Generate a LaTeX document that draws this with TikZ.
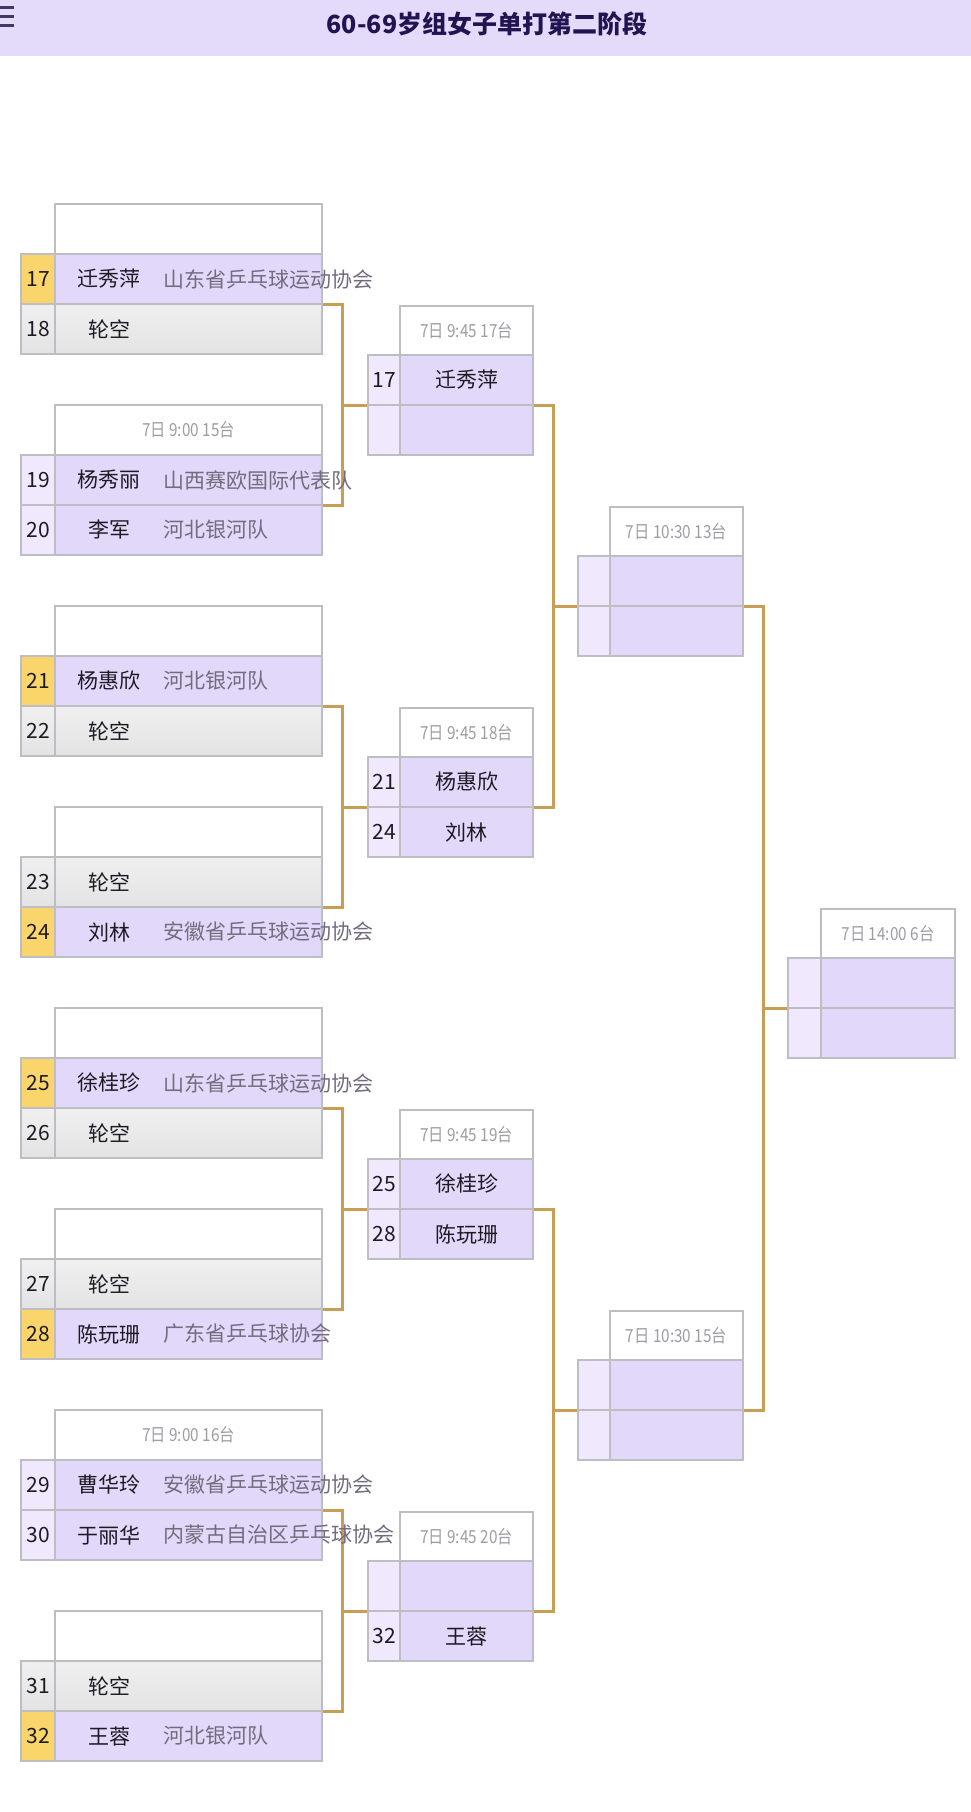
\documentclass[tikz,border=0pt]{standalone}
\usepackage{fontspec}
\setmainfont{Noto Sans CJK SC}
\newfontfamily\hdrfont{Noto Sans CJK SC}[FakeStretch=0.85]
\usetikzlibrary{backgrounds}
\definecolor{titlebg}{HTML}{E4DBFA}
\definecolor{titlefg}{HTML}{221450}
\definecolor{lav}{HTML}{E2D9FA}
\definecolor{lavlt}{HTML}{F0E8FC}
\definecolor{gold}{HTML}{C89E55}
\definecolor{yel}{HTML}{FAD56C}
\definecolor{bord}{HTML}{BEBDC4}
\definecolor{hdrfg}{HTML}{A09CA4}
\definecolor{clubfg}{HTML}{736C7E}
\definecolor{namefg}{HTML}{1E1A24}
\tikzset{
  cell/.style={draw=bord,line width=1.3pt,inner sep=0pt,outer sep=0pt,minimum height=50pt,anchor=north west,font=\fontsize{21}{21}\selectfont,text=namefg},
  hdrcell/.style={cell,fill=white,font=\hdrfont\fontsize{18}{18}\selectfont,text=hdrfg},
  lavcell/.style={fill=lav},
  ltcell/.style={fill=lavlt},
  yelcell/.style={fill=yel},
  byecell/.style={top color=gray!12,bottom color=gray!22},
  nametxt/.style={inner sep=0pt,font=\fontsize{21}{21}\selectfont,text=namefg},
  clubtxt/.style={inner sep=0pt,anchor=west,font=\fontsize{21}{21}\selectfont,text=clubfg},
  conn/.style={draw=gold,line width=3pt,line join=miter}
}
% left column: header
\newcommand{\lhdr}[3]{\node[hdrcell,minimum width=267pt] (#1) at (55,#2) {#3};}
% left column row: id, y, numstyle, rowstyle, num, name, club
\newcommand{\lrow}[7]{%
  \node[cell,#3,minimum width=34pt] (#1n) at (21,#2) {#5};
  \node[cell,#4,minimum width=267pt] (#1p) at (55,#2) {};
  \node[nametxt] (#1m) at ([xshift=54pt]#1p.west) {#6};
  \node[clubtxt] (#1c) at ([xshift=108pt]#1p.west) {#7};}
% right columns: header id, x, width, y, text
\newcommand{\rhdr}[5]{\node[hdrcell,minimum width=#3pt] (#1) at (#2,#4) {#5};}
% right row: id, xnum, numwidth, xname, namewidth, y, num, name
\newcommand{\rrow}[8]{%
  \node[cell,ltcell,minimum width=#3pt] (#1n) at (#2,#6) {#7};
  \node[cell,lavcell,minimum width=#5pt] (#1p) at (#4,#6) {#8};}
\begin{document}
\begin{tikzpicture}[x=1pt,y=-1pt]
\useasboundingbox (0,0) rectangle (971,1812);
\begin{pgfonlayer}{background}
  \fill[white] (0,0) rectangle (971,1812);
\end{pgfonlayer}
% title bar
\node[fill=titlebg,inner sep=0pt,minimum width=971pt,minimum height=56pt,anchor=north west] (bar) at (0,0) {};
\node[inner sep=0pt,text=titlefg,font=\fontsize{25}{25}\selectfont\bfseries] (title) at (487,24) {60-69岁组女子单打第二阶段};
\draw[titlefg!85,line width=3pt] (0,7) -- (14,7) (0,16) -- (14,16) (0,25) -- (14,25);

% ===== column 1 =====
\lhdr{L0h}{204}{}
\lrow{L0a}{254}{yelcell}{lavcell}{17}{迁秀萍}{山东省乒乓球运动协会}
\lrow{L0b}{304}{byecell}{byecell}{18}{轮空}{}
\lhdr{L1h}{405}{7日 9:00 15台}
\lrow{L1a}{455}{ltcell}{lavcell}{19}{杨秀丽}{山西赛欧国际代表队}
\lrow{L1b}{505}{ltcell}{lavcell}{20}{李军}{河北银河队}
\lhdr{L2h}{606}{}
\lrow{L2a}{656}{yelcell}{lavcell}{21}{杨惠欣}{河北银河队}
\lrow{L2b}{706}{byecell}{byecell}{22}{轮空}{}
\lhdr{L3h}{807}{}
\lrow{L3a}{857}{byecell}{byecell}{23}{轮空}{}
\lrow{L3b}{907}{yelcell}{lavcell}{24}{刘林}{安徽省乒乓球运动协会}
\lhdr{L4h}{1008}{}
\lrow{L4a}{1058}{yelcell}{lavcell}{25}{徐桂珍}{山东省乒乓球运动协会}
\lrow{L4b}{1108}{byecell}{byecell}{26}{轮空}{}
\lhdr{L5h}{1209}{}
\lrow{L5a}{1259}{byecell}{byecell}{27}{轮空}{}
\lrow{L5b}{1309}{yelcell}{lavcell}{28}{陈玩珊}{广东省乒乓球协会}
\lhdr{L6h}{1410}{7日 9:00 16台}
\lrow{L6a}{1460}{ltcell}{lavcell}{29}{曹华玲}{安徽省乒乓球运动协会}
\lrow{L6b}{1510}{ltcell}{lavcell}{30}{于丽华}{内蒙古自治区乒乓球协会}
\lhdr{L7h}{1611}{}
\lrow{L7a}{1661}{byecell}{byecell}{31}{轮空}{}
\lrow{L7b}{1711}{yelcell}{lavcell}{32}{王蓉}{河北银河队}

% ===== column 2 =====
\rhdr{M0h}{400}{133}{306}{7日 9:45 17台}
\rrow{M0a}{368}{32}{400}{133}{355}{17}{迁秀萍}
\rrow{M0b}{368}{32}{400}{133}{405}{}{}
\rhdr{M1h}{400}{133}{708}{7日 9:45 18台}
\rrow{M1a}{368}{32}{400}{133}{757}{21}{杨惠欣}
\rrow{M1b}{368}{32}{400}{133}{807}{24}{刘林}
\rhdr{M2h}{400}{133}{1110}{7日 9:45 19台}
\rrow{M2a}{368}{32}{400}{133}{1159}{25}{徐桂珍}
\rrow{M2b}{368}{32}{400}{133}{1209}{28}{陈玩珊}
\rhdr{M3h}{400}{133}{1512}{7日 9:45 20台}
\rrow{M3a}{368}{32}{400}{133}{1561}{}{}
\rrow{M3b}{368}{32}{400}{133}{1611}{32}{王蓉}

% ===== column 3 =====
\rhdr{T0h}{610}{133}{507}{7日 10:30 13台}
\rrow{T0a}{578}{32}{610}{133}{556}{}{}
\rrow{T0b}{578}{32}{610}{133}{606}{}{}
\rhdr{T1h}{610}{133}{1311}{7日 10:30 15台}
\rrow{T1a}{578}{32}{610}{133}{1360}{}{}
\rrow{T1b}{578}{32}{610}{133}{1410}{}{}

% ===== column 4 =====
\rhdr{F0h}{821}{134}{909}{7日 14:00 6台}
\rrow{F0a}{788}{33}{821}{134}{958}{}{}
\rrow{F0b}{788}{33}{821}{134}{1008}{}{}

% ===== connectors =====
\begin{pgfonlayer}{background}
\draw[conn] (L0ap.south east) -- ++(20,0) |- (M0an.south west);
\draw[conn] (L1ap.south east) -- ++(20,0) |- (M0an.south west);
\draw[conn] (L2ap.south east) -- ++(20,0) |- (M1an.south west);
\draw[conn] (L3ap.south east) -- ++(20,0) |- (M1an.south west);
\draw[conn] (L4ap.south east) -- ++(20,0) |- (M2an.south west);
\draw[conn] (L5ap.south east) -- ++(20,0) |- (M2an.south west);
\draw[conn] (L6ap.south east) -- ++(20,0) |- (M3an.south west);
\draw[conn] (L7ap.south east) -- ++(20,0) |- (M3an.south west);
\draw[conn] (M0ap.south east) -- ++(20,0) |- (T0an.south west);
\draw[conn] (M1ap.south east) -- ++(20,0) |- (T0an.south west);
\draw[conn] (M2ap.south east) -- ++(20,0) |- (T1an.south west);
\draw[conn] (M3ap.south east) -- ++(20,0) |- (T1an.south west);
\draw[conn] (T0ap.south east) -- ++(20,0) |- (F0an.south west);
\draw[conn] (T1ap.south east) -- ++(20,0) |- (F0an.south west);
\end{pgfonlayer}
\end{tikzpicture}
\end{document}
